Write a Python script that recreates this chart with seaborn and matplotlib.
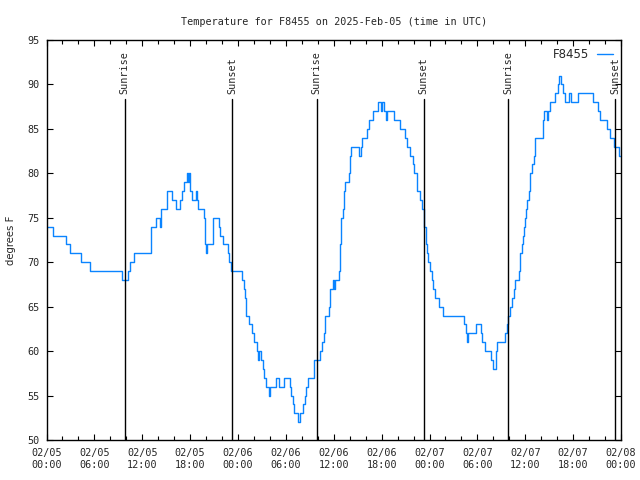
import pandas as pd
import seaborn as sns
import matplotlib.pyplot as plt
import matplotlib.dates as mdates

sns.set_style('ticks')
plt.rcParams['font.family'] = ['DejaVu Sans Mono', 'DejaVu Sans']

sizeOfFont = 7.3

# temperature readings, hours after 2025-02-05 00:00 UTC
hours = [0.00, 0.79, 2.50, 2.92, 4.35, 5.42, 9.48, 10.18, 10.52, 10.93,
         13.11, 13.77, 14.27, 14.40, 15.11, 15.74, 16.19, 16.78, 16.95, 17.19,
         17.62, 17.78, 17.85, 17.94, 18.24, 18.75, 18.85, 19.03, 19.70, 19.90,
         20.04, 20.15, 20.87, 21.58, 21.79, 22.13, 22.70, 22.92, 23.10, 24.51,
         24.70, 24.83, 24.95, 25.01, 25.33, 25.76, 25.96, 26.38, 26.46, 26.67,
         26.88, 27.09, 27.30, 27.51, 27.84, 28.05, 28.76, 29.18, 29.80, 30.47,
         30.68, 30.89, 30.97, 31.47, 31.72, 32.14, 32.34, 32.56, 32.77, 33.47,
         34.22, 34.52, 34.81, 34.90, 34.94, 35.35, 35.47, 35.56, 35.85, 35.98,
         36.10, 36.60, 36.73, 36.81, 36.94, 37.15, 37.23, 37.44, 37.85, 37.98,
         38.19, 39.11, 39.41, 39.53, 40.16, 40.36, 40.98, 41.54, 41.91, 42.04,
         42.36, 42.49, 42.66, 43.49, 44.33, 44.95, 45.24, 45.58, 45.87, 46.08,
         46.49, 46.83, 47.08, 47.25, 47.37, 47.55, 47.67, 47.87, 48.08, 48.30,
         48.50, 48.71, 49.21, 49.75, 52.34, 52.59, 52.76, 52.88, 53.81, 54.43,
         54.63, 54.97, 55.72, 55.94, 56.31, 56.51, 57.48, 57.69, 57.90, 58.12,
         58.33, 58.54, 58.75, 59.17, 59.29, 59.38, 59.59, 59.73, 59.80, 60.01,
         60.12, 60.22, 60.43, 60.54, 60.64, 60.85, 61.07, 61.17, 61.28, 62.21,
         62.33, 62.67, 62.84, 63.05, 63.73, 64.11, 64.22, 64.44, 64.74, 64.92,
         65.49, 65.70, 66.63, 68.44, 69.07, 69.37, 70.26, 70.67, 71.10, 71.69,
         72.00]
temps = [74, 73, 72, 71, 70, 69, 68, 69, 70, 71,
         74, 75, 74, 76, 78, 77, 76, 77, 78, 79,
         80, 79, 80, 78, 77, 78, 77, 76, 75, 72,
         71, 72, 75, 74, 73, 72, 71, 70, 69, 68,
         67, 66, 65, 64, 63, 62, 61, 60, 59, 60,
         59, 58, 57, 56, 55, 56, 57, 56, 57, 56,
         55, 54, 53, 52, 53, 54, 55, 56, 57, 59,
         60, 61, 62, 63, 64, 65, 66, 67, 68, 67,
         68, 69, 70, 72, 75, 76, 78, 79, 80, 82,
         83, 82, 83, 84, 85, 86, 87, 88, 87, 88,
         87, 86, 87, 86, 85, 84, 83, 82, 81, 80,
         78, 77, 76, 75, 74, 72, 71, 70, 69, 68,
         67, 66, 65, 64, 63, 62, 61, 62, 63, 62,
         61, 60, 59, 58, 60, 61, 62, 63, 64, 65,
         66, 67, 68, 69, 70, 71, 72, 73, 74, 75,
         76, 77, 78, 79, 80, 81, 82, 83, 84, 86,
         87, 86, 87, 88, 89, 90, 91, 90, 89, 88,
         89, 88, 89, 88, 87, 86, 85, 84, 83, 82,
         82]

sunrise_hours = [9.80, 33.87, 57.90]
sunset_hours = [23.24, 47.27, 71.25]

start = pd.Timestamp('2025-02-05 00:00')
df = pd.DataFrame({'time': start + pd.to_timedelta(hours, unit='h'), 'temp': temps})

fig = plt.figure(figsize=(6.4, 4.8), dpi=100, facecolor='white')
ax = fig.add_axes([46.5 / 640, 40 / 480, 574.5 / 640, 400 / 480])

sns.lineplot(x='time', y='temp', data=df, drawstyle='steps-post', color='#0a84ff',
             linewidth=1, label='F8455', ax=ax, estimator=None)

for name, hrs in [('Sunrise', sunrise_hours), ('Sunset', sunset_hours)]:
    for h in hrs:
        t = start + pd.Timedelta(hours=h)
        ax.plot([t, t], [50, 88.35], color='black', linewidth=1)
        ax.text(t, 88.9, name, rotation=90, ha='center', va='bottom', fontsize=sizeOfFont)

ax.set_xlim(start, start + pd.Timedelta(hours=72))
ax.set_ylim(50, 95)
ax.set_yticks(range(50, 96, 5))
ax.xaxis.set_major_locator(mdates.HourLocator(byhour=[0, 6, 12, 18]))
ax.xaxis.set_minor_locator(mdates.HourLocator(interval=2))
ax.xaxis.set_major_formatter(mdates.DateFormatter('%m/%d\n%H:%M'))

ax.tick_params(which='both', direction='in', top=True, right=True, labelsize=sizeOfFont,
               width=0.8, color='black')
ax.tick_params(which='major', length=4.5)
ax.tick_params(which='minor', length=3)
ax.tick_params(axis='x', pad=6)
ax.tick_params(axis='y', pad=5)
for s in ax.spines.values():
    s.set_linewidth(1)
    s.set_color('black')

ax.set_xlabel('')
ax.set_ylabel('degrees F', fontsize=sizeOfFont, labelpad=8, family=['DejaVu Sans'])
ax.set_title('Temperature for F8455 on 2025-Feb-05 (time in UTC)', fontsize=sizeOfFont, pad=11)

leg = ax.legend(loc='upper right', frameon=False, markerfirst=False,
                prop={'family': 'DejaVu Sans', 'size': 8.5},
                handlelength=1.3, borderaxespad=0.3, handletextpad=0.7)

plt.savefig('out.png', dpi=100)
